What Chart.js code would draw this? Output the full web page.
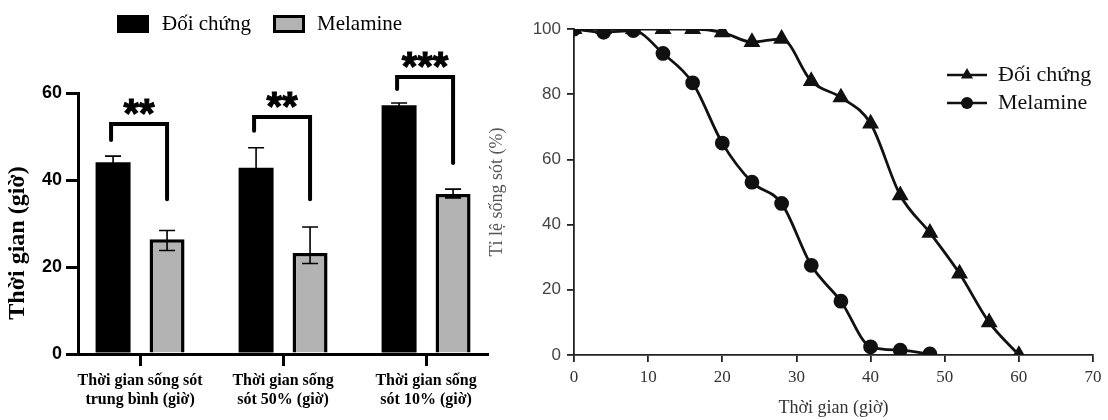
<!DOCTYPE html>
<html lang="vi">
<head>
<meta charset="UTF-8">
<title>Thời gian sống sót</title>
<script src="https://cdn.jsdelivr.net/npm/chart.js"></script>
<style>
    body { margin: 0; background: #fff; width: 1108px; height: 420px; overflow: hidden; position: relative; }
    #cotChart { position: absolute; left: 0; top: 0; }
    #duongChart { position: absolute; left: 480px; top: 0; }
</style>
</head>
<body>
<canvas id="cotChart" width="500" height="420"></canvas>
<canvas id="duongChart" width="628" height="420"></canvas>
<script>
    // ---- bieu do cot (trai) ----
    const nhom = [
        ["Thời gian sống sót", "trung bình (giờ)"],
        ["Thời gian sống", "sót 50% (giờ)"],
        ["Thời gian sống", "sót 10% (giờ)"]
    ];
    const doiChungTB = [44.1, 42.8, 57.2];
    const doiChungSaiTren = [1.4, 4.6, 0.5];
    const doiChungSaiDuoi = [1.4, 4.6, 0.5];
    const melamineTB = [26.4, 23.2, 36.8];
    const melamineSaiTren = [2.0, 6.0, 1.1];
    const melamineSaiDuoi = [2.6, 2.4, 0.9];
    const ngoacDinh = [52.9, 54.5, 63.7];
    const ngoacChanTrai = [49.2, 51.3, 60.9];
    const ngoacChanPhai = [35.6, 35.6, 43.9];
    const saoYNghia = ["**", "**", "***"];
    const mocTrucY1 = [0, 20, 40, 60];

    // ---- bieu do duong (phai) ----
    const gioDoiChung = [0, 4, 8, 12, 16, 20, 24, 28, 32, 36, 40, 44, 48, 52, 56, 60];
    const tiLeDoiChung = [100, 100, 100, 100, 100, 99, 96, 97, 84, 79, 71, 49, 37.5, 25, 10, 0];
    const gioMelamine = [0, 4, 8, 12, 16, 20, 24, 28, 32, 36, 40, 44, 48];
    const tiLeMelamine = [100, 99, 99.5, 92.5, 83.5, 65, 53, 46.5, 27.5, 16.5, 2.5, 1.5, 0.3];
    const mocTrucX2 = [0, 10, 20, 30, 40, 50, 60, 70];
    const mocTrucY2 = [0, 20, 40, 60, 80, 100];

    const tenDoiChung = "Đối chứng";
    const tenMelamine = "Melamine";
    const mauXam = "#b3b3b3";

    function cap(arrX, arrY) {
        return arrX.map((x, i) => ({ x: x, y: arrY[i] }));
    }

    // thanh sai so + ngoac y nghia + chu thich cho bieu do cot
    const veThem1 = {
        id: 'veThem1',
        afterDatasetsDraw(chart) {
            const ctx = chart.ctx;
            const y = chart.scales.y;
            const sai = [[doiChungSaiTren, doiChungSaiDuoi], [melamineSaiTren, melamineSaiDuoi]];
            ctx.save();
            ctx.strokeStyle = '#000';
            ctx.lineWidth = 1.6;
            chart.data.datasets.forEach((ds, d) => {
                const meta = chart.getDatasetMeta(d);
                meta.data.forEach((bar, i) => {
                    const v = ds.data[i].y;
                    const yt = y.getPixelForValue(v + sai[d][0][i]);
                    const yd = y.getPixelForValue(v - sai[d][1][i]);
                    ctx.beginPath();
                    ctx.moveTo(bar.x, yt); ctx.lineTo(bar.x, yd);
                    ctx.moveTo(bar.x - 8, yt); ctx.lineTo(bar.x + 8, yt);
                    ctx.moveTo(bar.x - 8, yd); ctx.lineTo(bar.x + 8, yd);
                    ctx.stroke();
                });
            });
            ctx.restore();
        },
        afterDraw(chart) {
            const ctx = chart.ctx;
            const y = chart.scales.y;
            const m0 = chart.getDatasetMeta(0).data;
            const m1 = chart.getDatasetMeta(1).data;
            ctx.save();
            ctx.strokeStyle = '#000';
            ctx.lineWidth = 4;
            ctx.lineCap = 'round';
            ctx.lineJoin = 'miter';
            for (let i = 0; i < nhom.length; i++) {
                const xl = m0[i].x - 2, xr = m1[i].x;
                const yt = y.getPixelForValue(ngoacDinh[i]);
                ctx.beginPath();
                ctx.moveTo(xl, y.getPixelForValue(ngoacChanTrai[i]));
                ctx.lineTo(xl, yt);
                ctx.lineTo(xr, yt);
                ctx.lineTo(xr, y.getPixelForValue(ngoacChanPhai[i]));
                ctx.stroke();
                // dau sao
                ctx.fillStyle = '#000';
                ctx.font = 'bold 40px "Liberation Sans", Arial, sans-serif';
                ctx.textAlign = 'center';
                ctx.textBaseline = 'alphabetic';
                const m = ctx.measureText(saoYNghia[i]);
                const cy = yt - 17;
                ctx.lineWidth = 1;
                ctx.strokeText(saoYNghia[i], (xl + xr) / 2, cy + (m.actualBoundingBoxAscent - m.actualBoundingBoxDescent) / 2);
                ctx.fillText(saoYNghia[i], (xl + xr) / 2, cy + (m.actualBoundingBoxAscent - m.actualBoundingBoxDescent) / 2);
                ctx.lineWidth = 4;
            }
            // ten truc y
            ctx.save();
            ctx.translate(18, 243);
            ctx.rotate(-Math.PI / 2);
            ctx.fillStyle = '#000';
            ctx.font = 'bold 24px "Liberation Serif", "Times New Roman", serif';
            ctx.textAlign = 'center';
            ctx.textBaseline = 'middle';
            ctx.fillText('Thời gian (giờ)', 0, 0);
            ctx.restore();
            // chu thich
            ctx.fillStyle = '#000';
            ctx.fillRect(117, 15, 32, 18);
            ctx.fillStyle = mauXam;
            ctx.fillRect(273, 15, 32, 18);
            ctx.lineWidth = 3;
            ctx.strokeRect(274.5, 16.5, 29, 15);
            ctx.fillStyle = '#000';
            ctx.font = '21px "Liberation Serif", "Times New Roman", serif';
            ctx.textAlign = 'left';
            ctx.textBaseline = 'middle';
            ctx.fillText(tenDoiChung, 162, 24);
            ctx.fillText(tenMelamine, 317, 24);
            ctx.restore();
        }
    };

    new Chart(document.getElementById('cotChart'), {
        type: 'bar',
        data: {
            datasets: [{
                label: tenDoiChung,
                data: cap([0, 1, 2], doiChungTB),
                backgroundColor: '#000',
                borderWidth: 0,
                categoryPercentage: 0.755,
                barPercentage: 0.648
            }, {
                label: tenMelamine,
                data: cap([0, 1, 2], melamineTB),
                backgroundColor: mauXam,
                borderColor: '#000',
                borderWidth: 3.5,
                categoryPercentage: 0.755,
                barPercentage: 0.648
            }]
        },
        options: {
            responsive: false,
            animation: false,
            layout: { padding: { top: 93, right: 13, left: 0, bottom: 0 } },
            plugins: { legend: { display: false }, tooltip: { enabled: false } },
            scales: {
                x: {
                    type: 'linear',
                    min: -0.434,
                    max: 2.426,
                    offset: false,
                    afterBuildTicks: s => { s.ticks = [0, 1, 2].map(v => ({ value: v })); },
                    afterFit: s => { s.height = 66; },
                    grid: { display: true, drawOnChartArea: false, drawTicks: true, tickLength: 12, lineWidth: 3, color: '#000', offset: false },
                    border: { display: true, width: 3, color: '#000' },
                    ticks: {
                        callback: v => nhom[v],
                        font: { family: '"Liberation Serif", "Times New Roman", serif', weight: 'bold', size: 16 },
                        color: '#000',
                        padding: 5,
                        maxRotation: 0,
                        autoSkip: false
                    }
                },
                y: {
                    min: 0,
                    max: 60,
                    afterBuildTicks: s => { s.ticks = mocTrucY1.map(v => ({ value: v })); },
                    afterFit: s => { s.width = 78; },
                    grid: { display: true, drawOnChartArea: false, drawTicks: true, tickLength: 12, lineWidth: 3, color: '#000' },
                    border: { display: true, width: 3, color: '#000' },
                    ticks: {
                        font: { family: '"Liberation Sans", Arial, sans-serif', weight: 'bold', size: 18 },
                        color: '#000',
                        padding: 4
                    }
                }
            }
        },
        plugins: [veThem1]
    });

    // chu thich cho bieu do duong
    const veThem2 = {
        id: 'veThem2',
        afterDraw(chart) {
            const ctx = chart.ctx;
            ctx.save();
            ctx.strokeStyle = '#111';
            ctx.fillStyle = '#111';
            ctx.lineWidth = 2.5;
            const dong = [[75, 'tamgiac', tenDoiChung], [103, 'tron', tenMelamine]];
            dong.forEach(d => {
                const yy = d[0];
                ctx.beginPath();
                ctx.moveTo(467, yy); ctx.lineTo(507, yy);
                ctx.stroke();
                ctx.beginPath();
                if (d[1] === 'tamgiac') {
                    const r = 7;
                    ctx.moveTo(487, yy - r);
                    ctx.lineTo(487 + r * Math.sin(2 * Math.PI / 3), yy - r * Math.cos(2 * Math.PI / 3));
                    ctx.lineTo(487 - r * Math.sin(2 * Math.PI / 3), yy - r * Math.cos(2 * Math.PI / 3));
                    ctx.closePath();
                } else {
                    ctx.arc(487, yy, 6, 0, Math.PI * 2);
                }
                ctx.fill();
                ctx.font = '22px "Liberation Serif", "Times New Roman", serif';
                ctx.textAlign = 'left';
                ctx.textBaseline = 'middle';
                ctx.fillText(d[2], 518, yy);
            });
            ctx.restore();
        }
    };

    new Chart(document.getElementById('duongChart'), {
        type: 'line',
        data: {
            datasets: [{
                label: tenDoiChung,
                data: cap(gioDoiChung, tiLeDoiChung),
                borderColor: '#111',
                backgroundColor: '#111',
                borderWidth: 2.8,
                pointStyle: 'triangle',
                pointRadius: 7,
                cubicInterpolationMode: 'monotone',
                order: 1
            }, {
                label: tenMelamine,
                data: cap(gioMelamine, tiLeMelamine),
                borderColor: '#111',
                backgroundColor: '#111',
                borderWidth: 2.8,
                pointStyle: 'circle',
                pointRadius: 6,
                cubicInterpolationMode: 'monotone',
                order: 0
            }]
        },
        options: {
            responsive: false,
            animation: false,
            layout: { padding: { top: 29, right: 15, left: 0, bottom: 0 } },
            plugins: { legend: { display: false }, tooltip: { enabled: false } },
            scales: {
                x: {
                    type: 'linear',
                    min: 0,
                    max: 70,
                    afterBuildTicks: s => { s.ticks = mocTrucX2.map(v => ({ value: v })); },
                    afterFit: s => { s.height = 65; },
                    grid: { display: true, drawOnChartArea: false, drawTicks: true, tickLength: 7, lineWidth: 1.8, color: '#222' },
                    border: { display: true, width: 1.8, color: '#222' },
                    ticks: {
                        font: { family: '"Liberation Serif", "Times New Roman", serif', size: 17 },
                        color: '#333',
                        padding: 5
                    },
                    title: {
                        display: true,
                        text: 'Thời gian (giờ)',
                        font: { family: '"Liberation Serif", "Times New Roman", serif', size: 18 },
                        color: '#333',
                        padding: { top: 0, bottom: 1 }
                    }
                },
                y: {
                    min: 0,
                    max: 100,
                    afterBuildTicks: s => { s.ticks = mocTrucY2.map(v => ({ value: v })); },
                    afterFit: s => { s.width = 94; },
                    grid: { display: true, drawOnChartArea: false, drawTicks: true, tickLength: 7, lineWidth: 1.8, color: '#222' },
                    border: { display: true, width: 1.8, color: '#222' },
                    ticks: {
                        font: { family: '"Liberation Sans", Arial, sans-serif', size: 17 },
                        color: '#444',
                        padding: 6
                    },
                    title: {
                        display: true,
                        text: 'Tỉ lệ sống sót (%)',
                        font: { family: '"Liberation Serif", "Times New Roman", serif', size: 18 },
                        color: '#555',
                        padding: { top: 6, bottom: 0 }
                    }
                }
            }
        },
        plugins: [veThem2]
    });
</script>
</body>
</html>
